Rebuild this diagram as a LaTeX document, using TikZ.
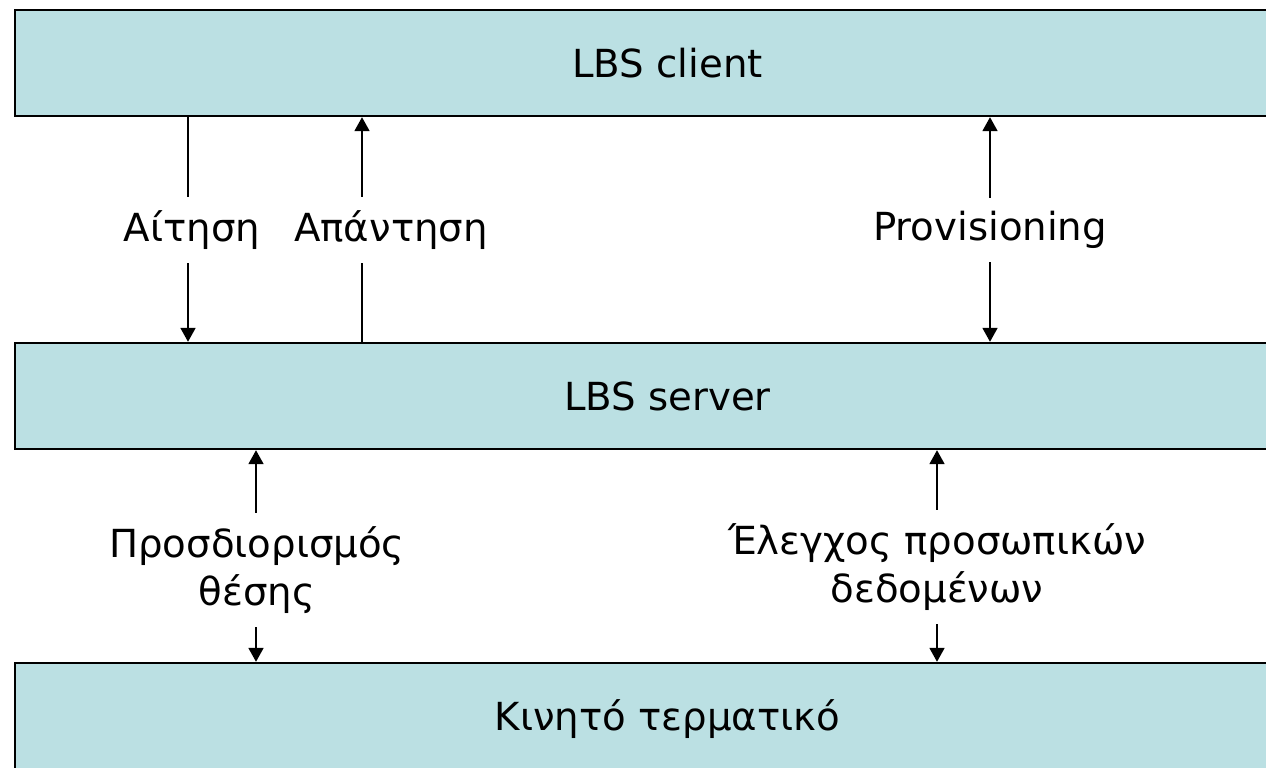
\documentclass[tikz,border=0pt]{standalone}
\usepackage{fontspec}
\setmainfont{DejaVu Sans}
\usepackage{tikz}
\usetikzlibrary{arrows.meta}

\definecolor{layerfill}{RGB}{187,224,227}

\begin{document}
\begin{tikzpicture}[x=0.75pt,y=0.75pt,yscale=-1,xscale=1,
  every node/.style={font=\fontsize{29}{36}\selectfont},
  layerbox/.style={draw=black, line width=1.7pt, fill=layerfill, minimum width=978.75pt, inner sep=0pt},
  lbl/.style={inner xsep=4pt, inner ysep=10pt, align=center},
  conn/.style={line width=2pt},
  tip/.style={line width=2pt, -{Triangle[length=10.5pt,width=11pt]}}]
\useasboundingbox (0,0) rectangle (1266,767);

% Layers
\node[layerbox, minimum height=79.5pt] (client) at (667.5,63) {LBS client};
\node[layerbox, minimum height=79.5pt] (server) at (667.5,396) {LBS server};
\node[layerbox, minimum height=84pt] (terminal) at (667.5,719) {Κινητό τερματικό};

% Text Node
\node[lbl] (req) at (192,230) {Αίτηση};
\node[lbl] (resp) at (391,230) {Απάντηση};
\node[lbl] (prov) at (990,230) {Provisioning};
\node[lbl] (loc) at (257,570) {Προσδιορισμός\\θέσης};
\node[lbl] (priv) at (937,567) {Έλεγχος προσωπικών\\δεδομένων};

% columns of the arrows
\coordinate (cReq) at (188,0);
\coordinate (cResp) at (362,0);
\coordinate (cProv) at (990,0);
\coordinate (cLoc) at (256,0);
\coordinate (cPriv) at (937,0);

%Straight Lines
\draw[conn] (client.south -| cReq) -- (cReq |- req.north);
\draw[tip] (cReq |- req.south) -- (server.north -| cReq);
\draw[conn] (server.north -| cResp) -- (cResp |- resp.south);
\draw[tip] (cResp |- resp.north) -- (client.south -| cResp);
\draw[tip] (cProv |- prov.north) -- (client.south -| cProv);
\draw[tip] (cProv |- prov.south) -- (server.north -| cProv);
\draw[tip] (cLoc |- loc.north) -- (server.south -| cLoc);
\draw[tip] (cLoc |- loc.south) -- (terminal.north -| cLoc);
\draw[tip] (cPriv |- priv.north) -- (server.south -| cPriv);
\draw[tip] (cPriv |- priv.south) -- (terminal.north -| cPriv);

\end{tikzpicture}
\end{document}
